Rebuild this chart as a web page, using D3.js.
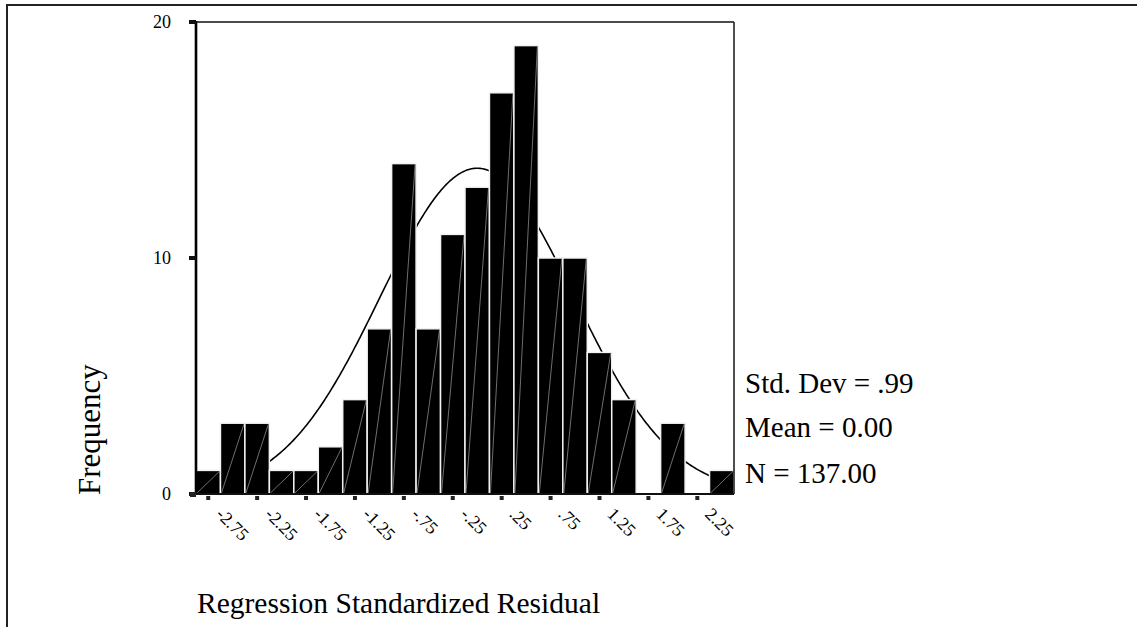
<!DOCTYPE html>
<html>
<head>
<meta charset="utf-8">
<script src="https://cdn.jsdelivr.net/npm/d3@7"></script>
<style>
  html, body { margin: 0; padding: 0; background: #fff; }
  svg { display: block; }
  text { font-family: "Liberation Serif", "Times New Roman", serif; fill: #000; }
</style>
</head>
<body>
<svg id="chart" width="1137" height="627"></svg>
<script>
// ---- data ----
const binCenters = [-2.75, -2.5, -2.25, -2.0, -1.75, -1.5, -1.25, -1.0, -0.75, -0.5, -0.25, 0.0, 0.25, 0.5, 0.75, 1.0, 1.25, 1.5, 1.75, 2.0, 2.25, 2.5];
const frequencies = [1, 3, 3, 1, 1, 2, 4, 7, 14, 7, 11, 13, 17, 19, 10, 10, 6, 4, 0, 3, 0, 1];
const xTickValues = [-2.75, -2.25, -1.75, -1.25, -0.75, -0.25, 0.25, 0.75, 1.25, 1.75, 2.25];
const xTickLabels = ["-2.75", "-2.25", "-1.75", "-1.25", "-.75", "-.25", ".25", ".75", "1.25", "1.75", "2.25"];
const yTickValues = [0, 10, 20];
const stats = { stdDev: 0.99, mean: 0.0, n: 137 };
const statLabels = ["Std. Dev = .99", "Mean = 0.00", "N = 137.00"];
const binWidth = 0.25;

// ---- layout ----
const svg = d3.select("#chart");
const L = 196, R = 734, T = 22, B = 494;

const x = d3.scaleLinear()
  .domain([binCenters[0] - binWidth / 2, binCenters[binCenters.length - 1] + binWidth / 2])
  .range([L, R]);
const y = d3.scaleLinear().domain([0, 20]).range([B, T]);

// outer frame
svg.append("path")
  .attr("d", `M7,640 L7,5 L1150,5`)
  .attr("fill", "none").attr("stroke", "#222").attr("stroke-width", 2);

// clip for curve
svg.append("defs").append("clipPath").attr("id", "plotclip")
  .append("rect").attr("x", L).attr("y", T).attr("width", R - L).attr("height", B - T);

// normal curve (drawn beneath bars)
const curveXs = d3.range(0, 401).map(i => x.domain()[0] + i * (x.domain()[1] - x.domain()[0]) / 400);
const pdf = v => stats.n * binWidth / (stats.stdDev * Math.sqrt(2 * Math.PI)) *
  Math.exp(-0.5 * Math.pow((v - stats.mean) / stats.stdDev, 2));
svg.append("path")
  .attr("clip-path", "url(#plotclip)")
  .attr("d", d3.line().x(d => x(d)).y(d => y(pdf(d))).curve(d3.curveLinear)(curveXs))
  .attr("fill", "none").attr("stroke", "#000").attr("stroke-width", 1.6);

// bars
const bars = svg.append("g");
binCenters.forEach((c, i) => {
  const f = frequencies[i];
  if (f <= 0) return;
  const x0 = x(c - binWidth / 2), x1 = x(c + binWidth / 2);
  bars.append("rect")
    .attr("x", x0).attr("y", y(f)).attr("width", x1 - x0).attr("height", y(0) - y(f))
    .attr("fill", "#000").attr("stroke", "#f2f2f2").attr("stroke-width", 1.5);
  bars.append("line")
    .attr("x1", x0 + 1).attr("y1", y(0) - 1).attr("x2", x1 - 1).attr("y2", y(f) + 1)
    .attr("stroke", "#8a8a8a").attr("stroke-width", 0.8);
});

// plot frame
svg.append("line").attr("x1", L).attr("x2", R).attr("y1", T).attr("y2", T)
  .attr("stroke", "#111").attr("stroke-width", 1.6);
svg.append("line").attr("x1", R).attr("x2", R).attr("y1", T).attr("y2", B)
  .attr("stroke", "#222").attr("stroke-width", 1.6);
svg.append("line").attr("x1", L).attr("x2", L).attr("y1", T - 1).attr("y2", B + 1)
  .attr("stroke", "#000").attr("stroke-width", 2.6);
svg.append("line").attr("x1", L).attr("x2", R).attr("y1", B).attr("y2", B)
  .attr("stroke", "#111").attr("stroke-width", 2);

// y axis ticks & labels
const yAxis = svg.append("g");
yTickValues.forEach(v => {
  yAxis.append("rect").attr("x", L - 7).attr("y", y(v) - 2).attr("width", 7).attr("height", 4).attr("fill", "#111");
  yAxis.append("text").attr("x", 171).attr("y", y(v)).attr("dy", "0.33em")
    .attr("text-anchor", "end").attr("font-size", 18).text(v);
});
// origin marker
svg.append("rect").attr("x", L - 6).attr("y", B - 2).attr("width", 6).attr("height", 5).attr("fill", "#222");

// x axis ticks & labels
const xAxis = svg.append("g");
xTickValues.forEach((v, i) => {
  const px = x(v);
  xAxis.append("rect").attr("x", px - 2).attr("y", B + 2).attr("width", 4).attr("height", 4).attr("fill", "#222");
  xAxis.append("text")
    .attr("transform", `translate(${px + 11},${B + 17}) rotate(45)`)
    .attr("text-anchor", "start").attr("dominant-baseline", "central")
    .attr("font-size", 18).text(xTickLabels[i]);
});

// axis titles
svg.append("text")
  .attr("transform", `translate(100,495) rotate(-90)`)
  .attr("text-anchor", "start").attr("font-size", 31).text("Frequency");
svg.append("text").attr("x", 197).attr("y", 613).attr("font-size", 29.5)
  .text("Regression Standardized Residual");

// stats
const statY = [393, 437, 483];
statLabels.forEach((s, i) => {
  svg.append("text").attr("x", 745).attr("y", statY[i]).attr("font-size", 29).text(s);
});
</script>
</body>
</html>
